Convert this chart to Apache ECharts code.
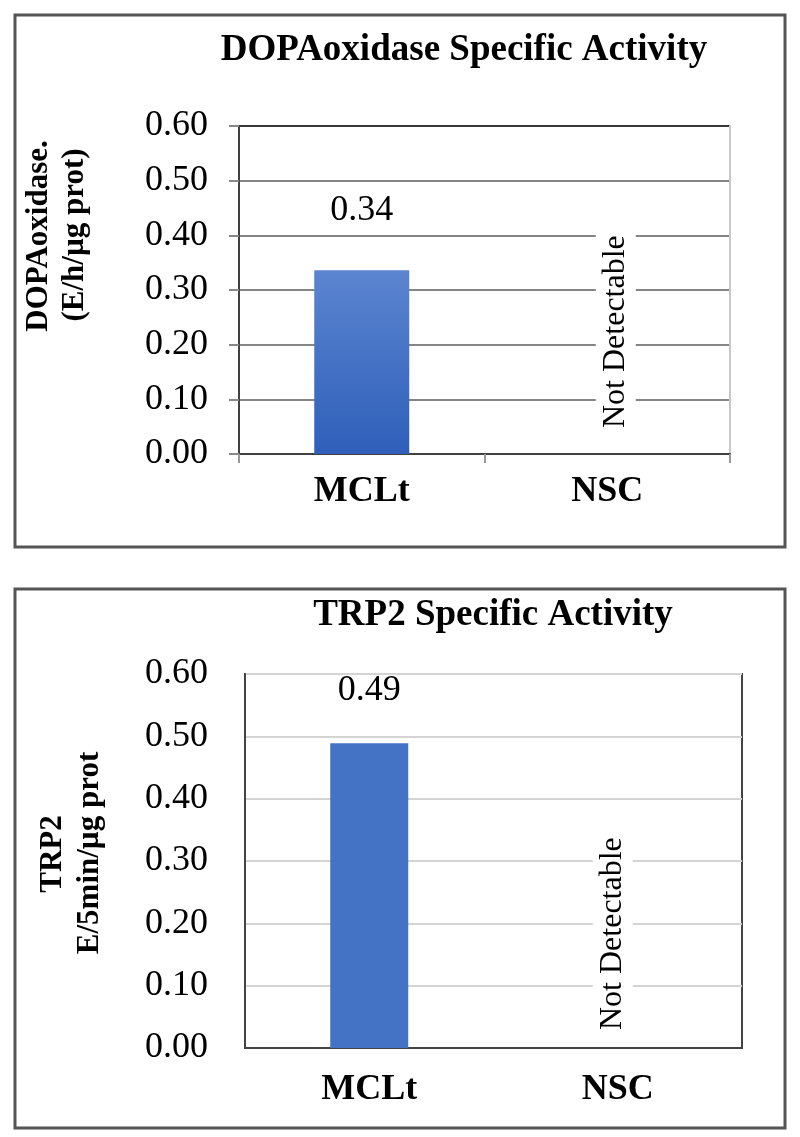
<!DOCTYPE html>
<html>
<head>
<meta charset="utf-8">
<title>DOPAoxidase / TRP2 Specific Activity</title>
<script src="https://cdn.jsdelivr.net/npm/echarts@6/dist/echarts.min.js"></script>
<style>
  html, body { margin: 0; padding: 0; background: #fff; }
  #chart { width: 800px; height: 1137px; }
</style>
</head>
<body>
<div id="chart"></div>
<script>
// data
const categories = ['MCLt', 'NSC'];
const dopaValues = [0.336, 0];
const trp2Values = [0.489, 0];
const notDetected = [false, true];
const yMin = 0;
const yMax = 0.6;
const yStep = 0.1;

const serif = '"Liberation Serif", "DejaVu Serif", serif';

function buildData(values, ndPos) {
    return values.map((v, i) => {
        if (!notDetected[i]) return v;
        return {
            value: v,
            label: {
                show: true,
                formatter: 'Not Detectable',
                rotate: 90,
                position: ndPos,
                align: 'left',
                verticalAlign: 'middle',
                distance: 0,
                fontFamily: serif,
                fontSize: 32,
                color: '#000',
                backgroundColor: '#fff',
                padding: [4, 6]
            }
        };
    });
}

function valueLabel(dist) {
    return {
        show: true,
        position: 'top',
        distance: dist,
        fontFamily: serif,
        fontSize: 36,
        color: '#000',
        formatter: p => p.value.toFixed(2)
    };
}

const myChart = echarts.init(document.getElementById('chart'));

const option = {
    backgroundColor: '#fff',
    animation: false,
    title: [
        {
            text: 'DOPAoxidase Specific Activity',
            left: 459, top: 27, textAlign: 'center',
            textStyle: { fontFamily: serif, fontSize: 37, fontWeight: 'bold', color: '#000' }
        },
        {
            text: 'TRP2 Specific Activity',
            left: 488, top: 592, textAlign: 'center',
            textStyle: { fontFamily: serif, fontSize: 37, fontWeight: 'bold', color: '#000' }
        }
    ],
    grid: [
        { left: 239, width: 491, top: 126, height: 328 },
        { left: 245, width: 497, top: 674, height: 374, show: true, borderColor: '#444', borderWidth: 2 }
    ],
    xAxis: [
        {
            type: 'category', gridIndex: 0, data: categories,
            axisLine: { lineStyle: { color: '#404040', width: 2 } },
            axisTick: { show: true, length: 9, lineStyle: { color: '#999', width: 2 } },
            axisLabel: { margin: 20, fontFamily: serif, fontSize: 36, fontWeight: 'bold', color: '#000' }
        },
        {
            type: 'category', gridIndex: 1, data: categories,
            axisLine: { lineStyle: { color: '#444', width: 2 } },
            axisTick: { show: false },
            axisLabel: { margin: 24, fontFamily: serif, fontSize: 36, fontWeight: 'bold', color: '#000' }
        }
    ],
    yAxis: [
        {
            type: 'value', gridIndex: 0, min: yMin, max: yMax, interval: yStep,
            axisLine: { show: true, lineStyle: { color: '#404040', width: 2 } },
            axisTick: { show: true, length: 10, lineStyle: { color: '#888', width: 2 } },
            axisLabel: { margin: 31, fontFamily: serif, fontSize: 36, color: '#000', formatter: v => v.toFixed(2) },
            splitLine: {
                lineStyle: {
                    color: ['#858585', '#858585', '#858585', '#858585', '#858585', '#858585', '#383838'],
                    width: 2
                }
            }
        },
        {
            type: 'value', gridIndex: 0, position: 'right', min: yMin, max: yMax, interval: yStep,
            axisLine: { show: true, lineStyle: { color: '#c8c8c8', width: 2 } },
            axisTick: { show: false },
            axisLabel: { show: false },
            splitLine: { show: false }
        },
        {
            type: 'value', gridIndex: 1, min: yMin, max: yMax, interval: yStep,
            axisLine: { show: true, lineStyle: { color: '#444', width: 2 } },
            axisTick: { show: false },
            axisLabel: { margin: 37, fontFamily: serif, fontSize: 36, color: '#000', formatter: v => v.toFixed(2) },
            splitLine: { lineStyle: { color: '#d4d4d4', width: 2 } }
        }
    ],
    series: [
        {
            type: 'bar', xAxisIndex: 0, yAxisIndex: 0, barWidth: 95,
            data: buildData(dopaValues, [56, -20]),
            itemStyle: {
                color: new echarts.graphic.LinearGradient(0, 0, 0, 1, [
                    { offset: 0, color: '#5b85d0' },
                    { offset: 1, color: '#2f5fba' }
                ])
            },
            label: valueLabel(42)
        },
        {
            type: 'bar', xAxisIndex: 1, yAxisIndex: 2, barWidth: 78,
            data: buildData(trp2Values, [34, -12]),
            itemStyle: { color: '#4472c4' },
            label: valueLabel(35)
        }
    ],
    graphic: [
        { type: 'rect', shape: { x: 15, y: 15, width: 770, height: 532 }, style: { fill: 'none', stroke: '#555', lineWidth: 3 } },
        { type: 'rect', shape: { x: 15, y: 589, width: 770, height: 539 }, style: { fill: 'none', stroke: '#555', lineWidth: 3 } },
        // axis names, two lines each, rotated
        { type: 'text', x: 39, y: 236, rotation: Math.PI / 2,
          style: { text: 'DOPAoxidase.', align: 'center', verticalAlign: 'middle', fontFamily: serif, fontSize: 31, fontWeight: 'bold', fill: '#000' } },
        { type: 'text', x: 75, y: 235, rotation: Math.PI / 2,
          style: { text: '(E/h/µg prot)', align: 'center', verticalAlign: 'middle', fontFamily: serif, fontSize: 31, fontWeight: 'bold', fill: '#000' } },
        { type: 'text', x: 53, y: 854, rotation: Math.PI / 2,
          style: { text: 'TRP2', align: 'center', verticalAlign: 'middle', fontFamily: serif, fontSize: 31, fontWeight: 'bold', fill: '#000' } },
        { type: 'text', x: 90, y: 853, rotation: Math.PI / 2,
          style: { text: 'E/5min/µg prot', align: 'center', verticalAlign: 'middle', fontFamily: serif, fontSize: 31, fontWeight: 'bold', fill: '#000' } }
    ]
};

myChart.setOption(option);
</script>
</body>
</html>
